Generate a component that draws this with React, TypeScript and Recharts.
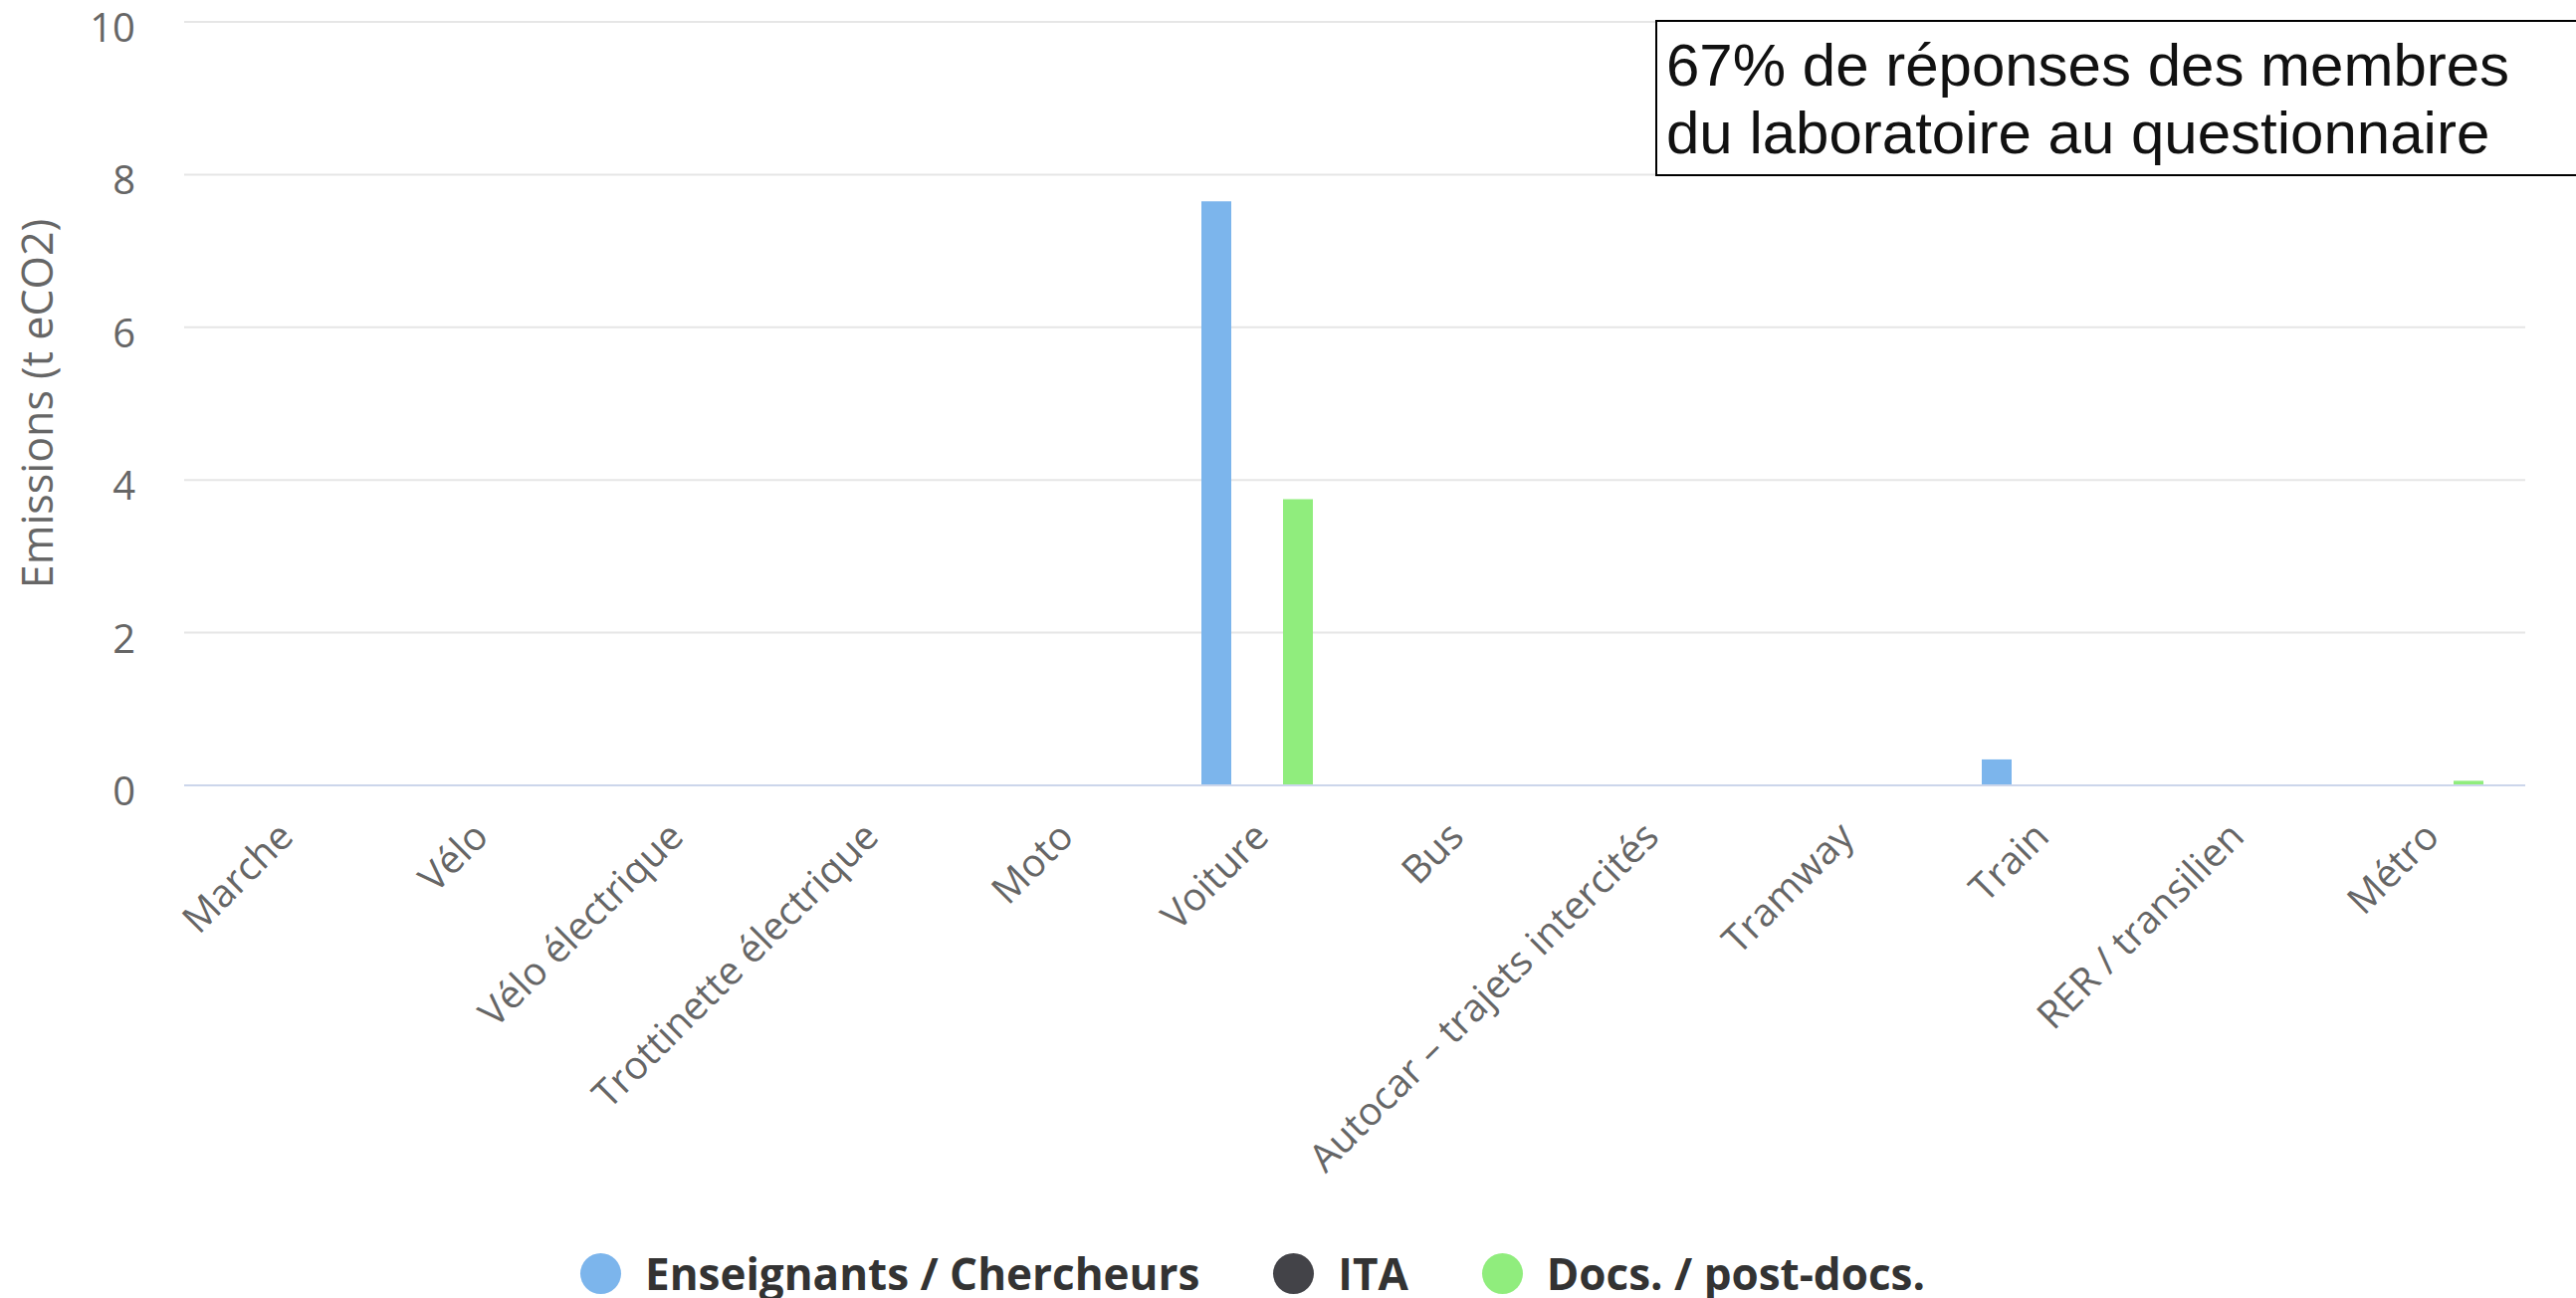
import React from 'react';
import { BarChart, Bar, XAxis, YAxis, CartesianGrid, Legend } from 'recharts';

const categories = [
  'Marche',
  'Vélo',
  'Vélo électrique',
  'Trottinette électrique',
  'Moto',
  'Voiture',
  'Bus',
  'Autocar – trajets intercités',
  'Tramway',
  'Train',
  'RER / transilien',
  'Métro',
];
const enseignants = [0, 0, 0, 0, 0, 7.65, 0, 0, 0, 0.34, 0, 0];
const ita = [0, 0, 0, 0, 0, 0, 0, 0, 0, 0, 0, 0];
const docs = [0, 0, 0, 0, 0, 3.75, 0, 0, 0, 0, 0, 0.06];
const yTicks = [0, 2, 4, 6, 8, 10];

const seriesNames = ['Enseignants / Chercheurs', 'ITA', 'Docs. / post-docs.'];
const seriesColors = ['#7cb5ec', '#434348', '#90ed7d'];

const data = categories.map((c, i) => ({
  name: c,
  ens: enseignants[i],
  ita: ita[i],
  docs: docs[i],
}));

const FONT = '"Open Sans", "DejaVu Sans", sans-serif';

const XTick = (props: any) => {
  const { x, y, payload } = props;
  const ax = x + 4;
  const ay = y + 44;
  return (
    <text
      x={ax}
      y={ay}
      transform={`rotate(-45, ${ax}, ${ay})`}
      textAnchor="end"
      dy="0.35em"
      fill="#666666"
      fontSize={39}
      fontFamily={FONT}
    >
      {payload.value}
    </text>
  );
};

const YTick = (props: any) => {
  const { x, y, payload } = props;
  return (
    <text
      x={x}
      y={y + 6}
      textAnchor="end"
      dy="0.35em"
      fill="#666666"
      fontSize={40}
      fontFamily={FONT}
    >
      {payload.value}
    </text>
  );
};

const YTitle = (props: any) => {
  const vb = props.viewBox || {};
  const cx = (vb.x || 0) + 38;
  const cy = (vb.y || 0) + (vb.height || 0) / 2;
  return (
    <text
      x={cx}
      y={cy}
      transform={`rotate(-90, ${cx}, ${cy})`}
      textAnchor="middle"
      dy="0.35em"
      fill="#666666"
      fontSize={43}
      fontFamily={FONT}
    >
      Emissions (t eCO2)
    </text>
  );
};

const LegendContent = () => (
  <div
    style={{
      height: 50,
      display: 'flex',
      justifyContent: 'center',
      alignItems: 'center',
      fontFamily: FONT,
      fontWeight: 700,
      fontSize: 44,
      lineHeight: '50px',
      color: '#333333',
      paddingRight: 20,
      boxSizing: 'border-box',
    }}
  >
    {seriesNames.map((n, i) => (
      <div
        key={n}
        style={{ display: 'flex', alignItems: 'center', marginLeft: i === 0 ? 0 : 74 }}
      >
        <span
          style={{
            display: 'inline-block',
            width: 41,
            height: 41,
            borderRadius: '50%',
            background: seriesColors[i],
            marginRight: 24,
          }}
        />
        <span>{n}</span>
      </div>
    ))}
  </div>
);

export default function App() {
  return (
    <div style={{ position: 'absolute', left: 0, top: 0, width: 2588, height: 1304, background: '#fff' }}>
      <BarChart
        width={2588}
        height={1304}
        data={data}
        margin={{ top: 22, right: 51, left: 0, bottom: 0 }}
        barSize={30}
        barGap={11}
      >
        <CartesianGrid vertical={false} stroke="#e6e6e6" strokeWidth={2} />
        <XAxis
          dataKey="name"
          interval={0}
          height={465}
          tickLine={false}
          tickSize={0}
          tickMargin={0}
          axisLine={{ stroke: '#ccd6eb', strokeWidth: 2 }}
          tick={<XTick />}
        />
        <YAxis
          width={185}
          domain={[0, 10]}
          ticks={yTicks}
          axisLine={false}
          tickLine={false}
          tickSize={0}
          tickMargin={49}
          tick={<YTick />}
          label={<YTitle />}
        />
        <Legend verticalAlign="bottom" height={50} content={<LegendContent />} />
        <Bar dataKey="ens" name={seriesNames[0]} fill={seriesColors[0]} isAnimationActive={false} />
        <Bar dataKey="ita" name={seriesNames[1]} fill={seriesColors[1]} isAnimationActive={false} />
        <Bar dataKey="docs" name={seriesNames[2]} fill={seriesColors[2]} isAnimationActive={false} />
      </BarChart>
      <div
        style={{
          position: 'absolute',
          left: 1663,
          top: 20,
          width: 918,
          height: 143,
          border: '2px solid #000',
          background: '#fff',
          fontFamily: '"Liberation Sans", Arial, sans-serif',
          fontSize: 60,
          lineHeight: '68px',
          color: '#111',
          paddingLeft: 9,
          paddingTop: 10,
          boxSizing: 'content-box',
        }}
      >
        67% de réponses des membres
        <br />
        du laboratoire au questionnaire
      </div>
    </div>
  );
}
